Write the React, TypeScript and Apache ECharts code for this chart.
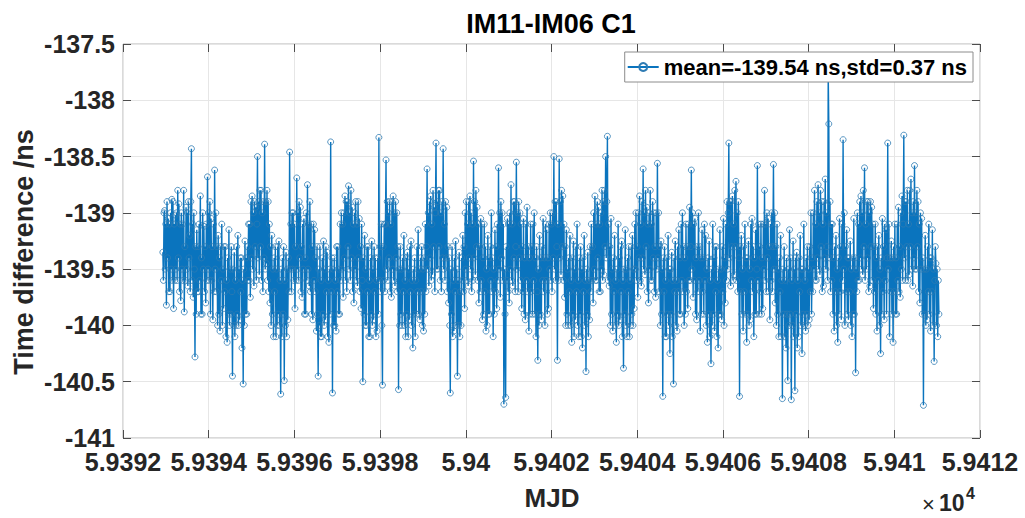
import React, { useEffect, useRef } from "react";
import * as echarts from "echarts";

// Sampling grid (MJD) — 20-minute samples starting at 59392.93
const START_MJD = 59392.93;
const STEP_DAYS = 1 / 72;

// Time difference values (ns), estimated from the figure, one row per day
const day01 = [-139.35,-139.6,-139.0, -138.98,-139.5,-139.1, -139.82,-138.9,-139.4, -139.05,-139.7,-139.1, -139.70,-139.0,-139.5, -138.88,-139.6,-138.9, -139.85,-139.1,-139.6, -139.02,-139.5,-139.0, -139.60,-138.8,-139.4, -138.92,-139.7,-139.1, -139.78,-139.0,-139.5, -139.10,-139.6,-138.8, -139.88,-139.3,-139.6, -138.95,-139.5,-139.0, -139.65,-138.9,-139.4, -139.20,-139.7,-138.9, -138.43,-139.6,-139.1, -139.75,-139.0,-139.5, -140.28,-139.3,-139.9, -139.15,-139.7,-139.3, -139.70,-139.1,-139.6, -138.85,-139.9,-139.4, -139.90,-139.0,-139.5, -139.12,-139.7,-139.3];
const day02 = [-139.80,-139.1,-139.6, -138.68,-139.5,-139.0, -139.60,-138.9,-139.9, -139.05,-139.6,-139.3, -139.95,-139.1,-139.7, -138.62,-139.5,-139.0, -139.70,-139.3,-140.0, -139.20,-139.9,-139.4, -140.05,-139.3,-139.6, -139.10,-140.0,-139.5, -139.85,-139.3,-139.7, -139.30,-140.1,-139.6, -140.15,-139.4,-139.9, -139.15,-140.0,-139.5, -139.90,-139.3,-139.7, -140.45,-139.5,-140.0, -139.35,-140.1,-139.6, -140.00,-139.3,-139.9, -139.20,-140.0,-139.5, -139.95,-139.4,-139.7, -139.40,-140.2,-139.6, -140.52,-139.5,-140.0, -139.25,-139.9,-139.4, -139.90,-139.3,-139.6];
const day03 = [-139.10,-139.6,-139.1, -139.75,-138.9,-139.4, -138.85,-139.5,-139.0, -139.65,-138.9,-139.3, -138.95,-139.6,-139.1, -138.50,-139.4,-138.9, -139.55,-138.8,-139.3, -138.80,-139.6,-139.0, -139.70,-138.9,-139.4, -138.39,-139.5,-138.9, -139.45,-138.8,-139.6, -138.90,-139.7,-139.1, -139.80,-139.3,-140.0, -139.20,-139.9,-139.5, -140.10,-139.4,-139.7, -139.30,-140.1,-139.5, -140.00,-139.3,-139.9, -139.25,-140.0,-139.6, -140.61,-139.5,-140.1, -139.40,-139.9,-139.3, -140.49,-139.6,-140.0, -139.35,-140.1,-139.5, -139.95,-139.4,-139.7, -138.46,-139.5,-139.1];
const day04 = [-139.70,-139.0,-139.5, -139.00,-139.6,-139.1, -139.85,-139.3,-139.6, -138.69,-139.5,-139.0, -139.60,-138.9,-139.4, -138.95,-139.7,-139.3, -139.75,-139.1,-139.5, -139.05,-139.9,-139.4, -139.90,-139.0,-139.6, -138.75,-139.5,-139.1, -139.65,-138.9,-139.7, -139.10,-139.9,-139.3, -139.95,-139.1,-139.6, -139.15,-139.7,-139.4, -140.05,-139.3,-139.9, -140.45,-139.5,-140.0, -139.30,-140.1,-139.6, -140.10,-139.4,-139.9, -139.25,-140.0,-139.5, -139.95,-139.3,-139.7, -139.35,-140.1,-139.6, -140.15,-139.5,-139.9, -138.37,-139.7,-139.4, -140.60,-139.5,-140.0];
const day05 = [-139.40,-140.0,-139.6, -140.05,-139.3,-139.7, -139.30,-139.9,-139.5, -139.90,-139.1,-139.6, -139.00,-139.5,-139.1, -139.75,-139.0,-139.4, -138.85,-139.6,-138.9, -139.70,-138.9,-139.3, -138.76,-139.5,-139.0, -139.60,-138.8,-139.4, -138.95,-139.7,-139.1, -139.80,-139.0,-139.5, -138.90,-139.6,-139.1, -139.65,-138.9,-139.4, -139.05,-139.7,-139.3, -139.85,-139.1,-139.6, -140.50,-139.4,-139.9, -139.20,-140.0,-139.5, -140.00,-139.3,-139.7, -139.30,-140.1,-139.6, -140.10,-139.4,-139.9, -139.25,-140.0,-139.5, -139.95,-139.3,-139.7, -139.40,-140.1,-139.6];
const day06 = [-140.05,-139.4,-139.9, -138.33,-139.6,-139.3, -139.70,-139.1,-140.0, -140.53,-139.3,-139.6, -139.10,-139.7,-139.1, -138.53,-139.5,-138.9, -139.60,-139.0,-139.4, -138.90,-139.7,-139.1, -139.75,-138.9,-139.5, -138.85,-139.6,-139.0, -139.65,-138.9,-139.4, -139.00,-139.7,-139.3, -140.57,-139.5,-140.0, -139.30,-139.9,-139.5, -140.00,-139.4,-139.7, -139.20,-140.0,-139.6, -140.10,-139.4,-139.9, -139.35,-140.1,-139.5, -139.95,-139.3,-139.7, -139.25,-140.0,-139.6, -140.20,-139.5,-139.9, -139.40,-140.1,-139.6, -139.90,-139.3,-139.7, -139.15,-139.9,-139.5];
const day07 = [-139.95,-139.4,-139.7, -139.30,-140.0,-139.5, -140.05,-139.4,-139.9, -139.10,-139.7,-139.3, -138.61,-139.5,-139.0, -139.65,-138.9,-139.4, -138.85,-139.6,-139.1, -139.55,-138.8,-139.3, -138.95,-139.7,-139.0, -138.38,-139.5,-138.9, -139.50,-138.8,-139.3, -138.80,-139.6,-139.0, -139.70,-138.9,-139.4, -138.43,-139.5,-139.1, -139.60,-138.9,-139.4, -138.95,-139.7,-139.3, -139.80,-139.4,-140.0, -140.60,-139.5,-139.9, -139.30,-140.1,-139.6, -140.05,-139.4,-139.7, -139.25,-140.0,-139.5, -140.45,-139.6,-140.0, -139.35,-140.1,-139.7, -140.00,-139.4,-139.6];
const day08 = [-139.20,-139.7,-139.3, -139.85,-139.0,-139.5, -138.90,-139.6,-139.1, -139.65,-138.9,-139.4, -138.85,-139.5,-139.0, -139.70,-139.1,-139.6, -138.54,-139.4,-138.9, -139.55,-138.8,-139.3, -138.95,-139.6,-139.1, -139.80,-139.3,-139.7, -139.05,-139.6,-139.1, -139.95,-139.4,-139.9, -139.10,-139.7,-139.3, -140.05,-139.5,-140.0, -139.20,-139.9,-139.4, -139.90,-139.3,-139.6, -139.00,-139.7,-139.4, -140.10,-139.5,-139.9, -139.15,-139.7,-139.3, -139.85,-139.1,-139.6, -138.60,-139.5,-139.0, -139.75,-138.9,-139.4, -139.00,-139.6,-139.1, -140.70,-139.5,-139.9];
const day09 = [-140.64,-139.3,-139.6, -139.05,-139.7,-139.1, -139.80,-139.0,-139.5, -138.75,-139.6,-139.1, -139.65,-138.9,-139.4, -138.90,-139.7,-139.3, -138.55,-139.5,-139.0, -139.70,-138.9,-139.4, -139.00,-139.6,-139.1, -139.85,-139.3,-139.7, -139.05,-139.9,-139.4, -139.95,-139.1,-139.6, -138.95,-139.7,-139.3, -140.05,-139.4,-139.9, -139.10,-139.7,-139.3, -139.90,-139.1,-139.6, -139.00,-139.9,-139.4, -140.10,-139.3,-139.7, -140.31,-139.5,-140.0, -139.20,-139.9,-139.4, -139.95,-139.3,-139.6, -139.05,-139.7,-139.4, -140.00,-139.1,-139.6, -139.15,-139.9,-139.4];
const day10 = [-139.85,-139.1,-139.5, -139.00,-139.6,-139.1, -139.70,-139.0,-139.4, -138.50,-139.5,-138.9, -139.60,-138.9,-139.3, -140.31,-139.1,-139.6, -138.52,-139.4,-138.9, -139.55,-138.8,-139.3, -138.85,-139.6,-139.1, -139.75,-139.3,-140.0, -139.15,-139.9,-139.5, -140.00,-139.4,-139.7, -139.20,-140.0,-139.6, -140.15,-139.4,-139.9, -139.25,-140.1,-139.5, -139.95,-139.3,-139.7, -139.10,-140.0,-139.6, -140.10,-139.4,-139.9, -139.30,-140.1,-139.5, -140.20,-139.4,-139.7, -139.20,-140.0,-139.6, -140.41,-139.5,-139.9, -139.35,-140.1,-139.6, -139.95,-139.3,-139.7];
const day11 = [-139.10,-139.6,-139.3, -139.80,-139.0,-139.5, -138.85,-139.6,-139.1, -139.60,-138.9,-139.4, -138.95,-139.7,-139.1, -139.70,-139.0,-139.5, -138.80,-139.6,-138.9, -139.55,-138.8,-139.3, -138.50,-139.4,-138.9, -138.32,-139.6,-139.1, -139.65,-139.3,-140.0, -139.05,-139.9,-139.5, -140.05,-139.4,-139.7, -139.20,-140.0,-139.6, -140.15,-139.5,-139.9, -139.10,-140.0,-139.4, -139.95,-139.3,-139.7, -139.25,-140.1,-139.6, -140.38,-139.5,-139.9, -139.15,-140.0,-139.5, -140.10,-139.4,-139.7, -139.30,-140.1,-139.6, -140.00,-139.3,-139.9, -139.20,-140.0,-139.5];
const day12 = [-139.85,-139.1,-139.5, -139.00,-139.6,-139.3, -139.75,-139.0,-139.4, -138.85,-139.6,-139.1, -139.65,-138.9,-139.4, -138.61,-139.5,-139.0, -139.55,-138.8,-139.3, -138.95,-139.7,-139.1, -139.80,-139.0,-139.5, -138.80,-139.6,-139.1, -139.60,-138.9,-139.4, -139.00,-139.7,-139.3, -139.75,-139.0,-139.5, -138.56,-139.4,-139.0, -139.70,-139.3,-140.0, -139.25,-139.9,-139.5, -140.63,-139.4,-139.7, -139.30,-140.1,-139.6, -140.10,-139.4,-139.9, -139.20,-140.0,-139.5, -140.25,-139.5,-139.9, -139.35,-140.1,-139.6, -140.52,-139.4,-139.7, -139.25,-140.0,-139.6];
const day13 = [-140.05,-139.3,-139.7, -139.15,-139.9,-139.4, -139.90,-139.1,-139.6, -139.00,-139.7,-139.3, -140.00,-139.4,-139.9, -139.10,-139.7,-139.3, -139.85,-139.1,-139.6, -138.95,-139.6,-139.3, -138.62,-139.5,-139.0, -139.75,-139.1,-139.6, -139.05,-139.9,-139.4, -139.95,-139.3,-139.7, -139.00,-139.6,-139.3, -140.05,-139.4,-139.9, -139.15,-139.7,-139.4, -139.90,-139.1,-139.6, -139.20,-140.0,-139.5, -140.15,-139.4,-139.9, -139.25,-140.1,-139.6, -140.34,-139.5,-140.0, -139.10,-139.9,-139.4, -140.05,-139.3,-139.7, -139.30,-140.1,-139.6, -140.20,-139.5,-139.9];
const day14 = [-139.15,-139.9,-139.5, -139.95,-139.3,-139.7, -139.05,-140.0,-139.4, -139.80,-139.1,-139.6, -138.90,-139.5,-139.0, -138.38,-139.4,-138.9, -139.65,-138.9,-139.3, -138.85,-139.6,-139.1, -139.55,-138.8,-139.3, -138.72,-139.6,-139.0, -139.70,-138.9,-139.4, -140.63,-139.3,-139.7, -139.20,-139.9,-139.5, -140.05,-139.3,-139.7, -139.10,-139.9,-139.4, -140.15,-139.4,-139.9, -139.25,-140.0,-139.5, -139.95,-139.1,-139.6, -139.05,-139.7,-139.3, -140.10,-139.4,-139.9, -139.15,-139.9,-139.5, -138.58,-139.6,-139.1, -139.90,-139.3,-139.7, -139.10,-139.9,-139.4];
const day15 = [-139.85,-139.1,-139.5, -138.80,-139.6,-139.1, -139.70,-139.0,-139.4, -139.05,-139.7,-139.3, -139.95,-139.1,-139.6, -139.00,-139.7,-139.3, -138.57,-139.5,-139.0, -139.80,-139.3,-140.0, -139.10,-139.9,-139.5, -140.10,-139.4,-139.7, -139.20,-140.1,-139.6, -140.65,-139.5,-139.9, -139.30,-140.1,-139.6, -140.20,-139.4,-139.9, -140.49,-139.5,-140.0, -139.15,-139.9,-139.4, -140.66,-139.6,-140.0, -139.25,-140.1,-139.5, -140.58,-139.4,-139.9, -139.35,-140.2,-139.6, -140.10,-139.4,-139.7, -139.20,-140.0,-139.5, -140.25,-139.5,-139.9, -139.10,-140.0,-139.6];
const day16 = [-140.05,-139.4,-139.9, -139.30,-140.0,-139.5, -139.95,-139.3,-139.7, -139.00,-139.9,-139.4, -139.70,-139.0,-139.5, -138.80,-139.6,-139.1, -139.60,-138.9,-139.4, -138.75,-139.5,-139.0, -139.55,-138.8,-139.3, -138.90,-139.7,-139.1, -139.65,-138.9,-139.4, -138.70,-139.5,-139.0, -139.30,-139.6,-137.75, -138.21,-139.4,-138.9, -139.70,-139.1,-139.6, -139.10,-139.9,-139.4, -140.05,-139.3,-139.7, -139.20,-140.0,-139.5, -140.15,-139.4,-139.9, -139.05,-139.7,-139.3, -139.95,-139.1,-139.6, -138.35,-139.5,-139.0, -140.00,-139.3,-139.7, -139.15,-139.9,-139.4];
const day17 = [-139.95,-139.4,-139.7, -139.25,-140.0,-139.5, -140.10,-139.4,-139.9, -139.05,-139.9,-139.4, -140.42,-139.5,-139.7, -139.00,-139.6,-139.1, -139.60,-138.9,-139.4, -138.85,-139.5,-139.0, -139.55,-138.8,-139.3, -138.60,-139.6,-139.1, -139.50,-138.9,-139.4, -138.90,-139.7,-139.0, -139.65,-138.9,-139.3, -138.95,-139.6,-139.1, -139.85,-139.3,-139.7, -139.10,-139.9,-139.4, -140.05,-139.3,-139.6, -139.20,-140.0,-139.5, -140.25,-139.4,-139.9, -139.05,-139.7,-139.3, -139.95,-139.1,-139.6, -139.15,-139.9,-139.4, -138.38,-139.5,-139.1, -140.10,-139.4,-139.7];
const day18 = [-139.25,-139.9,-139.4, -140.15,-139.3,-139.7, -139.10,-139.9,-139.4, -139.90,-139.1,-139.6, -138.95,-139.7,-139.3, -139.75,-139.0,-139.5, -138.85,-139.6,-139.1, -138.31,-139.4,-138.9, -139.60,-138.9,-139.3, -138.80,-139.6,-139.1, -139.55,-138.8,-139.3, -138.70,-139.5,-139.0, -139.65,-138.9,-139.4, -138.58,-139.5,-139.0, -139.50,-138.8,-139.3, -138.90,-139.7,-139.1, -139.80,-139.0,-139.5, -139.05,-139.9,-139.4, -140.71,-139.5,-139.9, -139.20,-140.0,-139.5, -139.95,-139.3,-139.7, -139.10,-139.9,-139.4, -140.05,-139.4,-139.7, -139.15,-140.0,-139.5];
const day19 = [-140.32,-139.6,-139.3, -139.45,-140.0,-139.5, -140.10,-139.6,-139.9];

const timeDiff = [
  ...day01, ...day02, ...day03, ...day04, ...day05, ...day06, ...day07, ...day08, ...day09,
  ...day10, ...day11, ...day12, ...day13, ...day14, ...day15, ...day16, ...day17, ...day18, ...day19,
];

const TITLE = "IM11-IM06 C1";
const SERIES_NAME = "mean=-139.54 ns,std=0.37 ns";
const X_NAME = "MJD";
const Y_NAME = "Time difference /ns";

const FONT = "'Liberation Sans', Arial, Helvetica, sans-serif";

export default function App() {
  const ref = useRef<HTMLDivElement>(null);

  useEffect(() => {
    if (!ref.current) return;
    const chart = echarts.init(ref.current, undefined, { renderer: "svg" });
    const data = timeDiff.map((v, i) => [START_MJD + i * STEP_DAYS, v]);
    const fmtX = (v: number) => {
      let s = (v / 1e4).toFixed(4);
      s = s.replace(/0+$/, "").replace(/\.$/, "");
      return s;
    };
    const tickCommon = { show: true, inside: true, length: 8, lineStyle: { color: "#4d4d4d", width: 1 } };
    chart.setOption({
      animation: false,
      backgroundColor: "#ffffff",
      grid: { left: 123, top: 44, right: 45, bottom: 80, show: true, borderColor: "#b5b5b5", borderWidth: 1, backgroundColor: "transparent" },
      xAxis: [
        {
          type: "value", min: 59392, max: 59412, interval: 2,
          axisLine: { show: false },
          axisTick: tickCommon,
          splitLine: { show: true, lineStyle: { color: "#e6e6e6", width: 1 } },
          axisLabel: { formatter: fmtX, fontSize: 25, fontWeight: "bold", color: "#262626", fontFamily: FONT, margin: 11 },
        },
        {
          type: "value", position: "top", min: 59392, max: 59412, interval: 2,
          axisLine: { show: false }, axisTick: tickCommon, splitLine: { show: false }, axisLabel: { show: false },
        },
      ],
      yAxis: [
        {
          type: "value", min: -141, max: -137.5, interval: 0.5,
          axisLine: { show: false },
          axisTick: tickCommon,
          splitLine: { show: true, lineStyle: { color: "#e6e6e6", width: 1 } },
          axisLabel: { fontSize: 25, fontWeight: "bold", color: "#262626", fontFamily: FONT, margin: 8 },
        },
        {
          type: "value", position: "right", min: -141, max: -137.5, interval: 0.5,
          axisLine: { show: false }, axisTick: tickCommon, splitLine: { show: false }, axisLabel: { show: false },
        },
      ],
      legend: {
        show: true,
        right: 52, top: 52,
        padding: [4, 6, 4, 2],
        itemWidth: 31, itemHeight: 10,
        backgroundColor: "#ffffff",
        borderColor: "#8c8c8c", borderWidth: 1,
        textStyle: { fontSize: 22, fontWeight: "bold", color: "#000", fontFamily: FONT },
        data: [SERIES_NAME],
      },
      series: [
        {
          name: SERIES_NAME,
          type: "line",
          data,
          xAxisIndex: 0, yAxisIndex: 0,
          symbol: "circle",
          symbolSize: 6,
          showSymbol: true,
          lineStyle: { color: "#0a74be", width: 1.4, opacity: 1 },
          itemStyle: { color: "rgba(0,0,0,0)", borderColor: "#2f7bb3", borderWidth: 0.8 },
          emphasis: { disabled: true },
          z: 2,
        },
      ],
      graphic: [
        { type: "text", x: 551, y: 24, style: { text: TITLE, fill: "#000", font: `bold 27px ${FONT}`, textAlign: "center", textVerticalAlign: "middle" } },
        { type: "text", x: 24, y: 252, rotation: Math.PI / 2, style: { text: Y_NAME, fill: "#262626", font: `bold 27px ${FONT}`, textAlign: "center", textVerticalAlign: "middle" } },
        { type: "text", x: 552, y: 498, style: { text: X_NAME, fill: "#262626", font: `bold 26px ${FONT}`, textAlign: "center", textVerticalAlign: "middle" } },
        { type: "text", x: 922, y: 504, style: { text: "×", fill: "#262626", font: `22px ${FONT}`, textAlign: "left", textVerticalAlign: "middle" } },
        { type: "text", x: 939, y: 503, style: { text: "10", fill: "#262626", font: `bold 23px ${FONT}`, textAlign: "left", textVerticalAlign: "middle" } },
        { type: "text", x: 966, y: 493, style: { text: "4", fill: "#262626", font: `bold 16px ${FONT}`, textAlign: "left", textVerticalAlign: "middle" } },
      ],
    });
    return () => chart.dispose();
  }, []);

  return <div ref={ref} style={{ position: "fixed", left: 0, top: 0, width: 1025, height: 518, background: "#fff" }} />;
}
